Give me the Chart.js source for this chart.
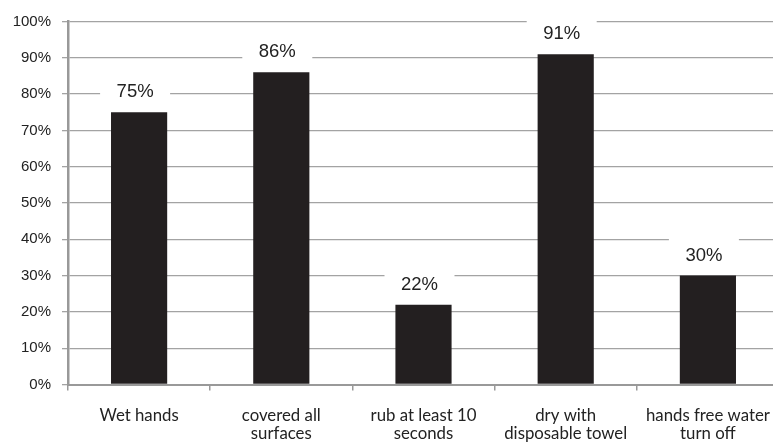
<!DOCTYPE html>
<html>
<head>
<meta charset="utf-8">
<script src="https://cdn.jsdelivr.net/npm/chart.js@4/dist/chart.umd.min.js"></script>
<style>
  html, body { margin: 0; padding: 0; background: #fff; overflow: hidden; }
  #wrap { width: 779px; height: 452px; position: relative; }
</style>
</head>
<body>
<div id="wrap"><canvas id="c"></canvas></div>
<script>
// Hand-washing steps and share of observations where each was done (%)
const categories = [
  'Wet hands',
  ['covered all', 'surfaces'],
  ['rub at least 10', 'seconds'],
  ['dry with', 'disposable towel'],
  ['hands free water', 'turn off']
];
const percentages = [75, 86, 22, 91, 30];
const yTickValues = [0, 10, 20, 30, 40, 50, 60, 70, 80, 90, 100];

const TEXT = '#222222';
const GRID = '#a3a3a3';
const AXIS = '#999999';

// Percentage labels above each bar, on a white plate that hides the gridlines
const valueLabels = {
  id: 'valueLabels',
  afterDatasetsDraw(chart) {
    const ctx = chart.ctx;
    const meta = chart.getDatasetMeta(0);
    const data = chart.data.datasets[0].data;
    ctx.save();
    ctx.font = '18.5px "Liberation Sans", Arial, sans-serif';
    ctx.textAlign = 'center';
    ctx.textBaseline = 'middle';
    meta.data.forEach((bar, i) => {
      const cx = bar.x - 4;
      const cy = bar.y - 21;
      ctx.fillStyle = '#ffffff';
      ctx.fillRect(cx - 35, cy - 22, 70, 42);
      ctx.fillStyle = TEXT;
      ctx.fillText(data[i] + '%', cx, cy + 1);
    });
    ctx.restore();
  }
};

new Chart(document.getElementById('c'), {
  type: 'bar',
  data: {
    labels: categories,
    datasets: [{
      data: percentages,
      backgroundColor: '#231f20',
      borderWidth: 0,
      categoryPercentage: 1,
      barPercentage: 0.395
    }]
  },
  options: {
    responsive: true,
    maintainAspectRatio: false,
    animation: false,
    devicePixelRatio: 1,
    layout: { padding: { top: 21.5, left: 0, right: 0, bottom: 0 } },
    plugins: {
      legend: { display: false },
      tooltip: { enabled: false }
    },
    scales: {
      x: {
        grid: {
          display: true,
          drawOnChartArea: false,
          drawTicks: true,
          tickLength: 6,
          color: AXIS,
          lineWidth: 1.5
        },
        border: { display: true, color: AXIS, width: 2 },
        ticks: {
          color: TEXT,
          padding: 16.5,
          maxRotation: 0,
          autoSkip: false,
          font: { family: 'Lato, "Open Sans", sans-serif', size: 16.8, lineHeight: '17.5px' }
        },
        afterFit(scale) {
          scale.height = 452 - 384.5;
          scale.paddingLeft = 0;
          scale.paddingRight = 0;
        }
      },
      y: {
        min: 0,
        max: 100,
        afterBuildTicks(scale) {
          scale.ticks = yTickValues.map(v => ({ value: v }));
        },
        grid: {
          color: GRID,
          lineWidth: 1.3,
          drawTicks: true,
          tickLength: 6
        },
        border: { display: true, color: AXIS, width: 2.5 },
        ticks: {
          color: TEXT,
          padding: 11,
          font: { family: '"Liberation Sans", Arial, sans-serif', size: 15 },
          callback: v => v + '%'
        },
        afterFit(scale) { scale.width = 68; }
      }
    }
  },
  plugins: [valueLabels]
});
</script>
</body>
</html>
